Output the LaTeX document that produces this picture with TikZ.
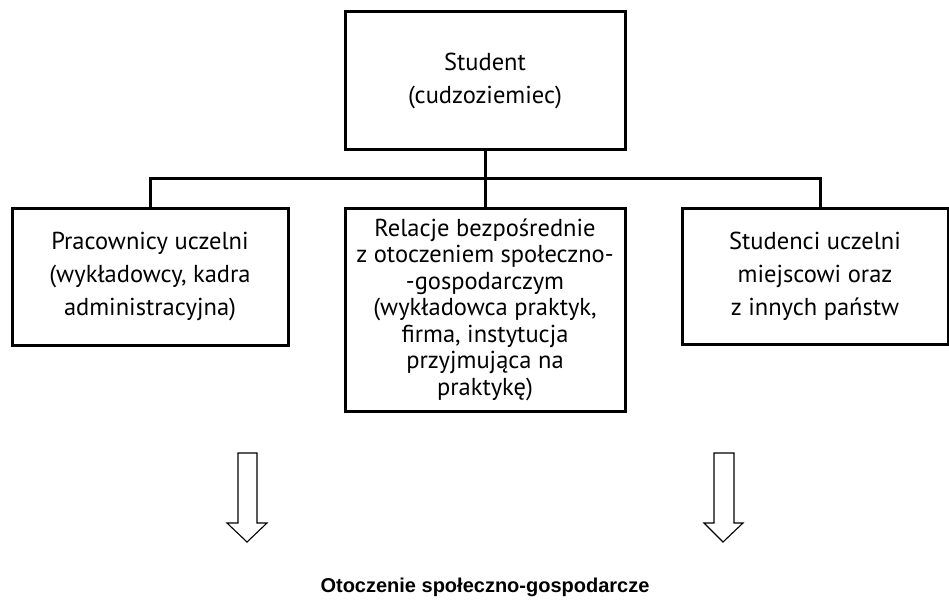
\documentclass[tikz,border=0pt]{standalone}
\usepackage{fontspec}
\setmainfont{PT Sans}
\newfontfamily\boldarial{Liberation Sans}
\begin{document}
\begin{tikzpicture}[x=1pt,y=-1pt,
  box/.style={draw=black,line width=3pt,rectangle,align=center,inner sep=0pt,
    font=\fontsize{24.5}{33}\selectfont},
  tightbox/.style={box,font=\fontsize{24.5}{26.5}\selectfont},
  conn/.style={draw=black,line width=3pt},
  hollow/.style={draw=black,line width=1.1pt,fill=white,line join=miter}]
\useasboundingbox (0,0) rectangle (949,602);
\node[box,minimum width=280pt,minimum height=137pt] (top) at (485,80.5)
  {Student\\(cudzoziemiec)};
\node[box,minimum width=276pt,minimum height=137pt] (left) at (150,276.5)
  {Pracownicy uczelni\\(wykładowcy, kadra\\administracyjna)};
\node[tightbox,minimum width=280pt,minimum height=203pt] (mid) at (485,309.5)
  {Relacje bezpośrednie\\z otoczeniem społeczno-\\-gospodarczym\\(wykładowca praktyk,\\firma, instytucja\\przyjmująca na\\praktykę)};
\node[box,minimum width=266pt,minimum height=136pt] (right) at (815,276)
  {Studenci uczelni\\miejscowi oraz\\z innych państw};
\coordinate (busL) at (150,178);
\coordinate (busR) at (820,178);
\draw[conn] (top.south) -- (top.south |- busL);
\draw[conn,line cap=rect] (busL |- left.north) -- (busL) -- (busR) -- (busR |- right.north);
\draw[conn] (mid.north) -- (mid.north |- busL);
\node[font=\boldarial\bfseries\fontsize{20}{24}\selectfont] (env) at (485,587)
  {Otoczenie społeczno-gospodarcze};
\draw[hollow] (238,453) -- (257,453) -- (257,523) -- (267,523) -- (247,542) -- (227,523) -- (238,523) -- cycle;
\draw[hollow] (714,453) -- (734,453) -- (734,523) -- (743,523) -- (723,542) -- (704,523) -- (714,523) -- cycle;
\end{tikzpicture}
\end{document}
